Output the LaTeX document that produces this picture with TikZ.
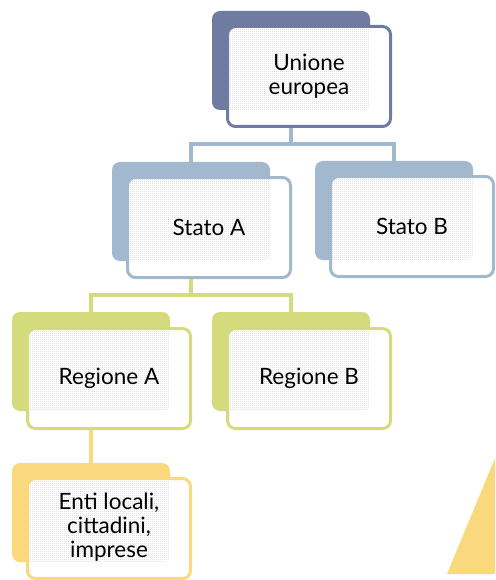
\documentclass[tikz,border=0pt]{standalone}
\usepackage{fontspec}
\setmainfont{Lato}
\usetikzlibrary{patterns.meta}

% fine stipple used where a card overlaps its shadow panel
\pgfdeclarepattern{
  name=finedots,
  type=uncolored,
  bottom left={\pgfpoint{0pt}{0pt}},
  top right={\pgfpoint{2pt}{2pt}},
  tile size={\pgfpoint{2pt}{2pt}},
  code={\pgfpathrectangle{\pgfpoint{0pt}{0pt}}{\pgfpoint{1pt}{1pt}}\pgfusepath{fill}}
}

\definecolor{euPurple}{HTML}{6F7BA1}
\definecolor{stBlue}{HTML}{A2B8CF}
\definecolor{rgGreen}{HTML}{D4DB7D}
\definecolor{loYellow}{HTML}{F9D87E}

\tikzset{
  panel/.style={rectangle, rounded corners=8pt, fill=#1, draw=none,
    minimum width=158pt, minimum height=99pt, inner sep=0pt},
  card/.style 2 args={rectangle, rounded corners=8pt, fill=white, draw=#1,
    line width=3pt, minimum width=163pt, minimum height=100pt, inner sep=0pt,
    align=center, font=\fontsize{22.5}{24}\selectfont,
    path picture={\fill[pattern=finedots, pattern color=gray!55, rounded corners=8pt]
      (#2.south west) rectangle (#2.north east);}},
  link/.style={draw=#1, line width=4pt}
}

\begin{document}
\begin{tikzpicture}[x=1pt, y=-1pt]
  \clip (0,0) rectangle (495,580);
  \fill[white] (0,0) rectangle (495,580);

  % level 1
  \node[panel=euPurple] (ueback) at (291,60.5) {};
  \node[card={euPurple}{ueback}] (ue) at (309,76.5) {Unione\\europea};

  % level 2
  \node[panel=stBlue] (saback) at (191,211.5) {};
  \node[card={stBlue}{saback}] (sa) at (209,227.5) {Stato A};
  \node[panel=stBlue] (sbback) at (394,210.5) {};
  \node[card={stBlue}{sbback}] (sb) at (412,226.5) {Stato B};

  % level 3
  \node[panel=rgGreen] (raback) at (91,361.5) {};
  \node[card={rgGreen}{raback}] (ra) at (109,378.5) {Regione A};
  \node[panel=rgGreen] (rbback) at (291,361.5) {};
  \node[card={rgGreen}{rbback}] (rb) at (309,378.5) {Regione B};

  % level 4
  \node[panel=loYellow] (loback) at (91,512.5) {};
  \node[card={loYellow}{loback}] (lo) at (109,528.5) {\raisebox{8pt}{\begin{tabular}{@{}c@{}}Enti locali,\\cittadini,\\imprese\end{tabular}}};

  % bus junctions
  \coordinate (bus1) at (291,144);
  \coordinate (bus2) at (191,295);

  % connectors
  \draw[link=stBlue] (ueback.center |- ue.south) -- (bus1);
  \draw[link=stBlue] (saback.north) |- (bus1) -| (sbback.north);
  \draw[link=rgGreen] (saback.center |- sa.south) -- (bus2);
  \draw[link=rgGreen] (raback.north) |- (bus2) -| (rbback.north);
  \draw[link=loYellow] (raback.center |- ra.south) -- (loback.north);

  % corner wedge
  \fill[loYellow] (447,574) -- (500.5,445) -- (500.5,574) -- cycle;
\end{tikzpicture}
\end{document}
